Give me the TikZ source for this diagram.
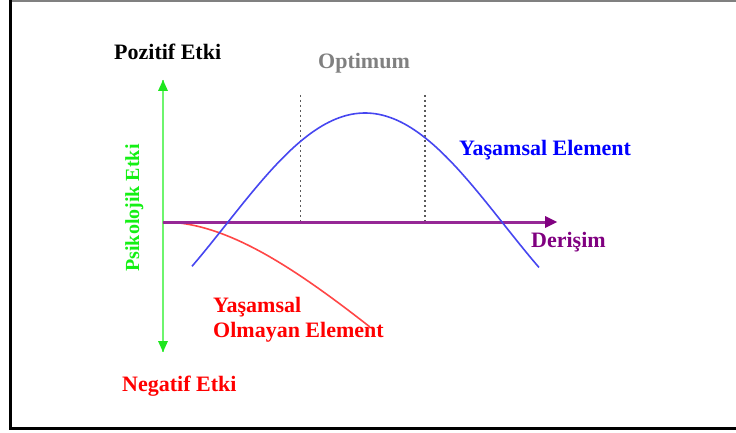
\documentclass[tikz,border=0pt]{standalone}
\usepackage{fontspec}
\setmainfont{Liberation Serif}
\usetikzlibrary{arrows.meta,calc}
\definecolor{axgreen}{RGB}{110,245,110}
\definecolor{txtgreen}{RGB}{20,240,20}
\definecolor{tipgreen}{RGB}{30,230,30}
\definecolor{axpurple}{RGB}{150,40,150}
\definecolor{txtpurple}{RGB}{128,0,128}
\definecolor{curveblue}{RGB}{70,70,240}
\definecolor{curvered}{RGB}{255,70,70}
\definecolor{dotgray}{RGB}{90,90,90}
\tikzset{
  lbl/.style={font=\fontsize{22}{24}\selectfont\bfseries, inner sep=0pt, anchor=base west},
  dotline/.style={dotgray, line width=1.6pt, dash pattern=on 1.6pt off 3.4pt},
}
\begin{document}
\begin{tikzpicture}[x=1pt,y=-1pt]
\useasboundingbox (0,0) rectangle (736,433);
% frame
\draw[gray, line width=1.5pt] (10,1) -- (740,1);
\draw[black, line width=3pt] (10.5,0) -- (10.5,430);
\draw[black, line width=3pt] (9,428.5) -- (740,428.5);
% coordinates
\coordinate (o) at (163,222);
\coordinate (vt) at (163,80);
\coordinate (vb) at (163,352);
\coordinate (hx) at (557,222);
\coordinate (hxs) at (549,222);
\coordinate (rend) at (370,327);
\coordinate (d1t) at (300.5,95);
\coordinate (d1b) at (300.5,222);
\coordinate (d2t) at (425,95);
\coordinate (d2b) at (425,222);
% dotted optimum lines
\draw[dotline] (d1t) -- (d1b);
\draw[dotline] (d2t) -- (d2b);
% green vertical axis
\draw[axgreen, line width=2pt] (o) -- (vt);
\draw[axgreen, line width=2pt] (o) -- (vb);
\fill[tipgreen] (vt) -- ++(-5,11) -- ++(10,0) -- cycle;
\fill[tipgreen] (vb) -- ++(-5,-11) -- ++(10,0) -- cycle;
% red curve
\draw[curvered, line width=1.6pt] (o) .. controls (225,222) and (292,266) .. (rend);
% purple axis
\draw[axpurple, line width=3pt] (o) -- (hxs);
\fill[txtpurple] (hx) -- ++(-12,-6) -- ++(0,12) -- cycle;
% blue curve
\draw[curveblue, line width=1.6pt] plot[domain=192:539, samples=120] (\x, {224-111*cos(0.6497*(\x-365))});
% labels
\node[lbl, black] (poz) at (114,60) {Pozitif Etki};
\node[lbl, gray] (opt) at (318,69) {Optimum};
\node[lbl, blue] (yase) at (459,155.5) {Yaşamsal Element};
\node[lbl, txtpurple] (der) at (531,247) {Derişim};
\node[lbl, red] (yas1) at (213,312) {Yaşamsal};
\node[lbl, red] (yas2) at (213,337) {Olmayan Element};
\node[lbl, red] (neg) at (122,391) {Negatif Etki};
\node[font=\fontsize{20}{22}\selectfont\bfseries, txtgreen, inner sep=0pt, anchor=base, rotate=90] (psk) at (139,208) {Psikolojik Etki};
\end{tikzpicture}
\end{document}
